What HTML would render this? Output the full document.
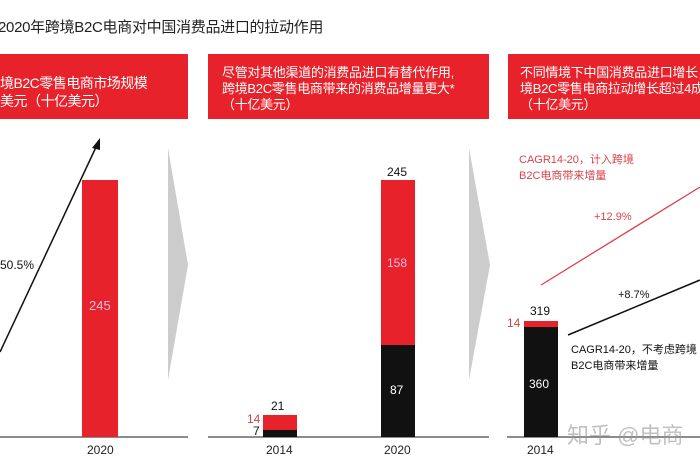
<!DOCTYPE html>
<html><head><meta charset="utf-8"><style>
body{margin:0;width:700px;height:470px;overflow:hidden;background:#fff;position:relative;font-family:"Liberation Sans","Noto Sans CJK SC",sans-serif;}
.a{position:absolute;white-space:nowrap;}
.box{position:absolute;background:#e8222b;color:#fff;font-size:13px;line-height:16px;overflow:hidden;top:54px;height:65px;white-space:nowrap;letter-spacing:-0.3px;}
</style></head><body>
<div class="a" style="left:-2px;top:16px;font-size:15px;color:#222;letter-spacing:-0.3px">2020年跨境B2C电商对中国消费品进口的拉动作用</div>
<div class="box" style="left:0;width:188px;"><div style="padding:20px 0 0 0;font-size:14px;line-height:18px;letter-spacing:-0.5px">境B2C零售电商市场规模<br>美元（十亿美元）</div></div>
<div class="box" style="left:208px;width:281px;"><div style="padding:11px 0 0 14px">尽管对其他渠道的消费品进口有替代作用,<br>跨境B2C零售电商带来的消费品增量更大*<br>（十亿美元）</div></div>
<div class="box" style="left:508px;width:192px;"><div style="padding:11px 0 0 12px">不同情境下中国消费品进口增长，跨<br>境B2C零售电商拉动增长超过4成<br>（十亿美元）</div></div>
<svg class="a" style="left:0;top:0" width="700" height="470">
<g fill="#ccc"><polygon points="168,148 188,265 168,380"/><polygon points="469,148 490,265 469,380"/></g>
<g stroke="#666" stroke-width="1.5"><line x1="0" y1="437" x2="188" y2="437"/><line x1="208" y1="437" x2="489" y2="437"/><line x1="507" y1="437" x2="700" y2="437"/></g>
<line x1="0" y1="352" x2="97" y2="145" stroke="#111" stroke-width="1.5"/>
<polygon points="100,138 92,148 100,150" fill="#111"/>
<rect x="82" y="180" width="36" height="257" fill="#e8222b"/>
<rect x="263" y="415" width="34" height="15" fill="#e8222b"/><rect x="263" y="430" width="34" height="7" fill="#111"/>
<rect x="381" y="180" width="34" height="165" fill="#e8222b"/><rect x="381" y="345" width="34" height="92" fill="#111"/>
<rect x="524" y="321" width="34" height="6" fill="#e8222b"/><rect x="524" y="327" width="34" height="110" fill="#111"/>
<line x1="541" y1="285" x2="700" y2="187" stroke="#d9434a" stroke-width="1.3"/>
<line x1="568" y1="335" x2="700" y2="280" stroke="#111" stroke-width="1.5"/>
</svg>
<div class="a" style="left:0;top:258px;font-size:12px;color:#111">50.5%</div>
<div class="a" style="left:89px;top:298px;font-size:13px;color:#fbd">245</div>
<div class="a" style="left:87px;top:443px;font-size:12px;color:#222">2020</div>
<div class="a" style="left:271px;top:399px;font-size:12px;color:#111">21</div>
<div class="a" style="left:247px;top:412px;font-size:12px;color:#c44">14</div>
<div class="a" style="left:253px;top:424px;font-size:12px;color:#111">7</div>
<div class="a" style="left:266px;top:443px;font-size:12px;color:#222">2014</div>
<div class="a" style="left:387px;top:165px;font-size:12px;color:#111">245</div>
<div class="a" style="left:387px;top:256px;font-size:12px;color:#fbd">158</div>
<div class="a" style="left:390px;top:383px;font-size:12px;color:#fff">87</div>
<div class="a" style="left:384px;top:443px;font-size:12px;color:#222">2020</div>
<div class="a" style="left:530px;top:304px;font-size:12px;color:#111">319</div>
<div class="a" style="left:507px;top:316px;font-size:12px;color:#c44">14</div>
<div class="a" style="left:529px;top:377px;font-size:12px;color:#fff">360</div>
<div class="a" style="left:527px;top:443px;font-size:12px;color:#222">2014</div>
<div class="a" style="left:519px;top:152px;font-size:11px;line-height:16px;color:#d9434a">CAGR14-20，计入跨境<br>B2C电商带来增量</div>
<div class="a" style="left:594px;top:211px;font-size:11px;color:#d9434a">+12.9%</div>
<div class="a" style="left:618px;top:289px;font-size:11px;color:#111">+8.7%</div>
<div class="a" style="left:571px;top:342px;font-size:11px;line-height:16px;color:#111">CAGR14-20，不考虑跨境<br>B2C电商带来增量</div>
<div class="a" style="left:567px;top:418px;font-size:22px;color:rgba(150,150,150,0.6)">知乎 @电商</div>
</body></html>
